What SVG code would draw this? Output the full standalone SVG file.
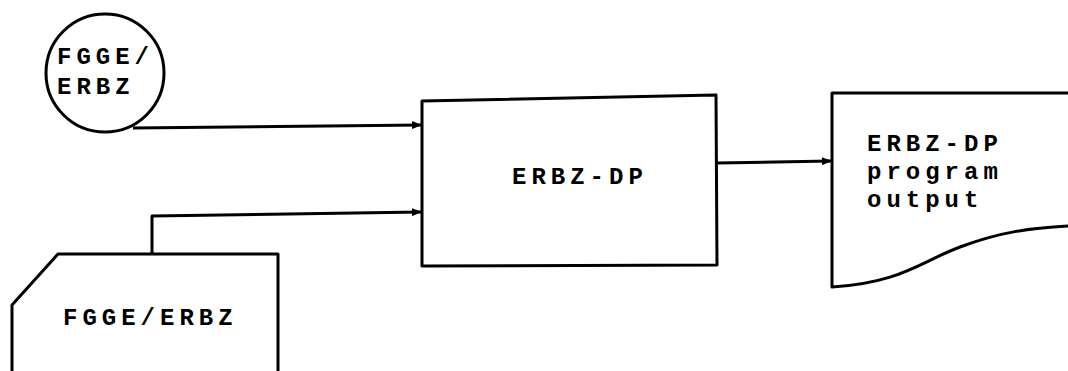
<svg xmlns="http://www.w3.org/2000/svg" width="1068" height="371" viewBox="0 0 1068 371">
<style>
.s{fill:none;stroke:#000;stroke-width:3;stroke-linejoin:round}
.t{font-family:"Liberation Mono","Courier New",monospace;font-weight:bold;font-size:24px;letter-spacing:5px;fill:#000}
</style>
<defs>
<marker id="ah" markerWidth="10" markerHeight="8" refX="9" refY="4" orient="auto" markerUnits="userSpaceOnUse">
<path d="M0,0 L10,4 L0,8 Z" fill="#000"/>
</marker>
</defs>
<rect width="1068" height="371" fill="#fff"/>
<g id="connectors">
<path class="s" d="M133,128 L421,125" marker-end="url(#ah)"/>
<path class="s" d="M152,253 V216 L421,212" marker-end="url(#ah)"/>
<path class="s" d="M717,163 L831,161" marker-end="url(#ah)"/>
</g>
<g id="circle-input">
<circle class="s" cx="105" cy="73" r="59"/>
<text class="t" x="57" y="64">FGGE/</text>
<text class="t" x="57" y="94">ERBZ</text>
</g>
<g id="card-input">
<path class="s" d="M12,371 V305 L58,254 H278 V371"/>
<text class="t" x="63" y="325">FGGE/ERBZ</text>
</g>
<g id="process">
<path class="s" d="M422,101 L716,95 L717,265 L422,266 Z"/>
<text class="t" x="512" y="184">ERBZ-DP</text>
</g>
<g id="document-output">
<path class="s" d="M1068,93 H832 V287 C900,283 920,262 960,247 S1030,228 1068,226"/>
<text class="t" x="867" y="151">ERBZ-DP</text>
<text class="t" x="867" y="179">program</text>
<text class="t" x="867" y="207">output</text>
</g>
</svg>
